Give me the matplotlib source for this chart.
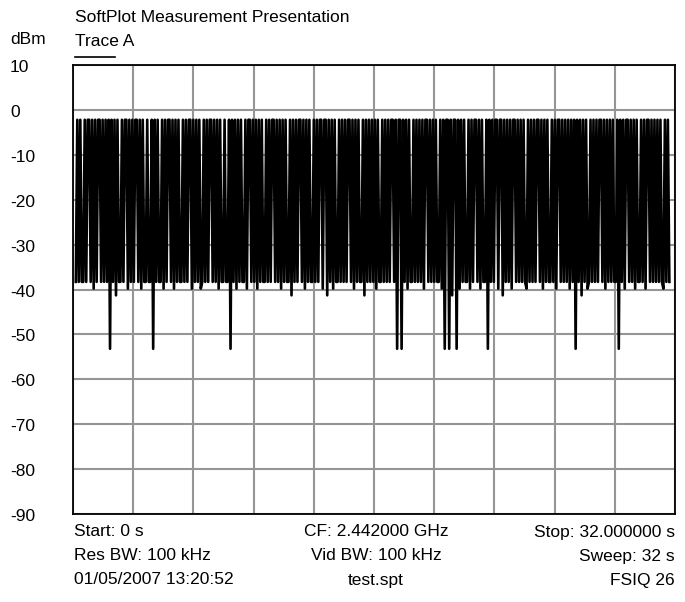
import numpy as np
import matplotlib
matplotlib.use("Agg")
import matplotlib.pyplot as plt
from matplotlib import transforms

plt.rcParams['font.family'] = ['Liberation Sans', 'DejaVu Sans']

# trace levels, one character per sweep point
LEVELS = {"H": -2.2, "L": -38.3, "l": -39.8, "m": -41.3, "D": -53.2}
TRACE_PATTERN = (
    "LHLHLLHLHH" "LHlHLHHLHL" "HLHDHLHmHL" "LHLHHlHLHL"
    "HHLHlHLLHL" "LHDHLHLLHl" "HLHHLHlHLH" "LLHLHLHHlH"
    "LHLHlLHLHL" "HHLHLHlHLL" "HLLHDHLHlH" "LHLLHlHHLH"
    "LHlHLHLLHL" "HLHHLHLHlH" "LHLLHmHLHL" "HHLHlHLHLL"
    "HLHLHHlHHm" "HLHlHLLHLH" "LHLHHLHlHL" "HLLHmHLHLH"
    "LHlHLLHLHL" "HLHHLHDHHD" "HLHlHLLHLH" "LHLHlHHLHL"
    "HLHLLHlHDH" "HDHmHHDHlH" "LHLLHlHLHH" "LHlHLLHDHL"
    "HLHHlHHmHL" "HLHlHHLHLH" "LHLlHLHLHL" "HHLHlHLHLL"
    "HLHlHHLHLH" "LHlHLHDHLH" "mHLHlLHLHL" "HLHHLHlHLH"
    "LHLLHDHLHl" "HHLHLHlHLL" "HLHlHHLHLH" "LHLHLlHLHL"
)
trace_dbm = [LEVELS[c] for c in TRACE_PATTERN]

y_ticks = [10, 0, -10, -20, -30, -40, -50, -60, -70, -80, -90]
footer = [
    ["Start: 0 s", "CF: 2.442000 GHz", "Stop: 32.000000 s"],
    ["Res BW: 100 kHz", "Vid BW: 100 kHz", "Sweep: 32 s"],
    ["01/05/2007 13:20:52", "test.spt", "FSIQ 26"],
]

W, H = 685, 602
fig = plt.figure(figsize=(W / 100, H / 100), dpi=100)
ax = fig.add_axes([73 / W, 1 - 514 / H, 602 / W, 449 / H])

t = np.linspace(0.15, 31.7, len(trace_dbm))
ax.plot(t, trace_dbm, color="black", lw=1.9, zorder=3)

ax.set_xlim(0, 32)
ax.set_ylim(-90, 10)
ax.set_xticks(np.linspace(0, 32, 11))
ax.set_yticks(y_ticks)
ax.grid(True, color="#959595", lw=1.5)
ax.tick_params(length=0, labelbottom=False, labelleft=False)
for s in ax.spines.values():
    s.set_linewidth(1.3)

fs = 12.5
tr = transforms.blended_transform_factory(fig.transFigure, ax.transData)
tr = tr + transforms.ScaledTranslation(0, -2.5 / 100, fig.dpi_scale_trans)
for v in y_ticks:
    fig.text(10 / W, v, str(v), transform=tr, ha="left", va="center", fontsize=fs)

fig.text(75 / W, 1 - 18 / H, "SoftPlot Measurement Presentation", ha="left", va="center", fontsize=fs)
fig.text(10 / W, 1 - 40 / H, "dBm", ha="left", va="center", fontsize=fs)
fig.text(75 / W, 1 - 42 / H, "Trace A", ha="left", va="center", fontsize=fs)
fig.add_artist(plt.Line2D([75 / W, 115 / W], [1 - 57 / H, 1 - 57 / H], color="black", lw=1.2))

rows_y = [532, 556, 580]
for row, yy in zip(footer, rows_y):
    fig.text(74 / W, 1 - yy / H, row[0], ha="left", va="center", fontsize=fs)
    fig.text(376 / W, 1 - yy / H, row[1], ha="center", va="center", fontsize=fs)
    fig.text(675 / W, 1 - yy / H, row[2], ha="right", va="center", fontsize=fs)

fig.savefig("out.png", dpi=100)
